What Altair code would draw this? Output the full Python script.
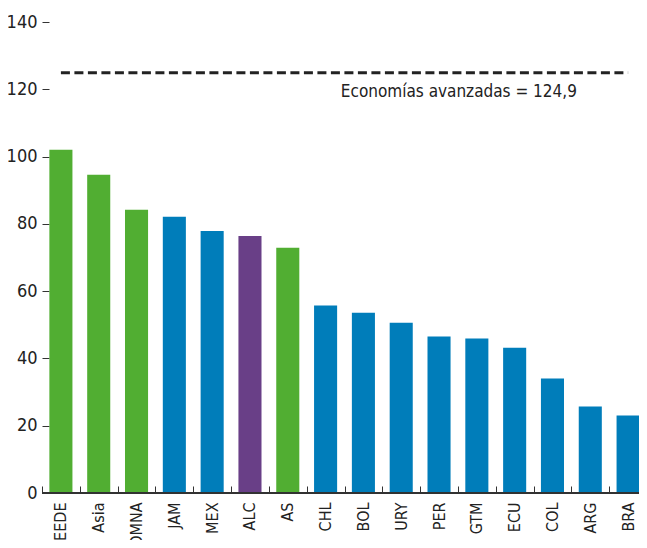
import altair as alt
import pandas as pd

categories = ["EEDE", "Asia", "OMNA", "JAM", "MEX", "ALC", "AS", "CHL", "BOL",
              "URY", "PER", "GTM", "ECU", "COL", "ARG", "BRA"]
values = [102.0, 94.6, 84.2, 82.1, 77.9, 76.4, 72.9, 55.7, 53.6,
          50.6, 46.5, 45.9, 43.2, 34.0, 25.7, 23.0]
groups = ["reg", "reg", "reg", "pais", "pais", "alc", "reg", "pais", "pais",
          "pais", "pais", "pais", "pais", "pais", "pais", "pais"]
ref_value = 124.9
ref_label = "Economías avanzadas = 124,9"
y_ticks = [0, 20, 40, 60, 80, 100, 120, 140]

df = pd.DataFrame({"cat": categories, "val": values, "grp": groups})
ref_df = pd.DataFrame({"x1": [categories[0]], "x2": [categories[-1]], "y": [ref_value],
                       "lab": [ref_label], "xt": ["GTM"]})

FONT = "DejaVu Sans Condensed, Liberation Sans Narrow, Roboto, sans-serif"

xscale = alt.Scale(domain=categories, paddingInner=0, paddingOuter=0)
yscale = alt.Scale(domain=[0, 140], nice=False)

bars = alt.Chart(df).mark_bar(width={"band": 0.61}).encode(
    x=alt.X("cat:N", scale=xscale, sort=categories,
            axis=alt.Axis(title=None, labelAngle=-90, tickBand="extent", tickSize=7,
                          offset=-7, domain=False, labelPadding=9, labelFontSize=16,
                          labelColor="#222", tickColor="#333", labelFont=FONT)),
    y=alt.Y("val:Q", scale=yscale,
            axis=alt.Axis(title=None, values=y_ticks, grid=False, domain=False, tickSize=7,
                          offset=-7, labelPadding=5, labelFontSize=18, labelColor="#222",
                          tickColor="#333", labelFont=FONT)),
    color=alt.Color("grp:N", scale=alt.Scale(domain=["reg", "pais", "alc"],
                                            range=["#51AE32", "#007DBA", "#693F87"]),
                    legend=None),
)

right_axis = alt.Chart(df).mark_bar(opacity=0).encode(
    x=alt.X("cat:N", scale=xscale, sort=categories),
    y=alt.Y("val:Q", scale=yscale,
            axis=alt.Axis(title=None, orient="right", values=y_ticks, grid=False, domain=False,
                          labels=False, tickSize=7, offset=-7, tickColor="#333")),
)

baseline = alt.Chart(df).mark_rule(color="#333", strokeWidth=1).encode(
    y=alt.Y("z:Q", scale=yscale, axis=None)
).transform_calculate(z="0")

ref_line = alt.Chart(ref_df).mark_rule(color="#222", strokeWidth=3, strokeDash=[9, 4.5]).encode(
    x=alt.X("x1:N", scale=xscale, sort=categories),
    x2="x2:N",
    y=alt.Y("y:Q", scale=yscale, axis=None),
)

ref_text = alt.Chart(ref_df).mark_text(font=FONT, fontSize=17, color="#222", dx=-18, dy=19).encode(
    x=alt.X("xt:N", scale=xscale, sort=categories),
    y=alt.Y("y:Q", scale=yscale, axis=None),
    text="lab:N",
)

chart = alt.layer(bars, right_axis, baseline, ref_line, ref_text).resolve_axis(
    y="independent"
).properties(
    width=605, height=471, autosize="none", background="white",
    padding={"left": 34, "top": 14, "right": -8, "bottom": 47},
).configure_view(strokeWidth=0, stroke="transparent")

chart.save("out.html", embed_options={"renderer": "svg", "actions": False})
